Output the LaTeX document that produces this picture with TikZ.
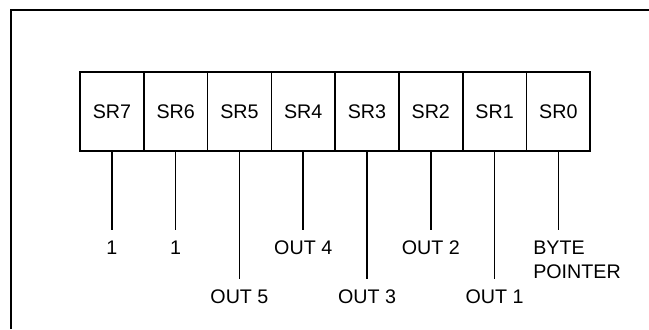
\documentclass[tikz,border=0pt]{standalone}
\usepackage{fontspec}
\setmainfont{Liberation Sans}
\usetikzlibrary{positioning}

\begin{document}
\begin{tikzpicture}[x=0.025cm, y=-0.025cm, every node/.style={font=\fontsize{14}{17}\selectfont},
	reg/.style={draw, line width=1.2pt, minimum width=1.594cm, minimum height=1.975cm, inner sep=0pt, outer sep=0pt},
	lbl/.style={anchor=north, inner xsep=0pt, inner ysep=7.5pt},
	wire/.style={line width=1.1pt}]
	\useasboundingbox (0,0) rectangle (649,329);
	\draw[line width=0.9pt] (11,329) -- (11,10) -- (649,10);
	\node[reg] (sr7) at (111.9,111.5) {SR7};
	\node[reg, right=0pt of sr7] (sr6) {SR6};
	\node[reg, right=0pt of sr6] (sr5) {SR5};
	\node[reg, right=0pt of sr5] (sr4) {SR4};
	\node[reg, right=0pt of sr4] (sr3) {SR3};
	\node[reg, right=0pt of sr3] (sr2) {SR2};
	\node[reg, right=0pt of sr2] (sr1) {SR1};
	\node[reg, right=0pt of sr1] (sr0) {SR0};
	\node[lbl] (l7) at (sr7.south |- 0,230) {1};
	\node[lbl] (l6) at (sr6.south |- 0,230) {1};
	\node[lbl] (l5) at (sr5.south |- 0,279) {OUT 5};
	\node[lbl] (l4) at (sr4.south |- 0,230) {OUT 4};
	\node[lbl] (l3) at (sr3.south |- 0,279) {OUT 3};
	\node[lbl] (l2) at (sr2.south |- 0,230) {OUT 2};
	\node[lbl] (l1) at (sr1.south |- 0,279) {OUT 1};
	\node[lbl, anchor=north west, align=left] (bp) at (533,230) {BYTE\\POINTER};
	\draw[wire] (sr7.south) -- (l7.north);
	\draw[wire] (sr6.south) -- (l6.north);
	\draw[wire] (sr5.south) -- (l5.north);
	\draw[wire] (sr4.south) -- (l4.north);
	\draw[wire] (sr3.south) -- (l3.north);
	\draw[wire] (sr2.south) -- (l2.north);
	\draw[wire] (sr1.south) -- (l1.north);
	\draw[wire] (sr0.south) -- (sr0.south |- bp.north);
\end{tikzpicture}
\end{document}
